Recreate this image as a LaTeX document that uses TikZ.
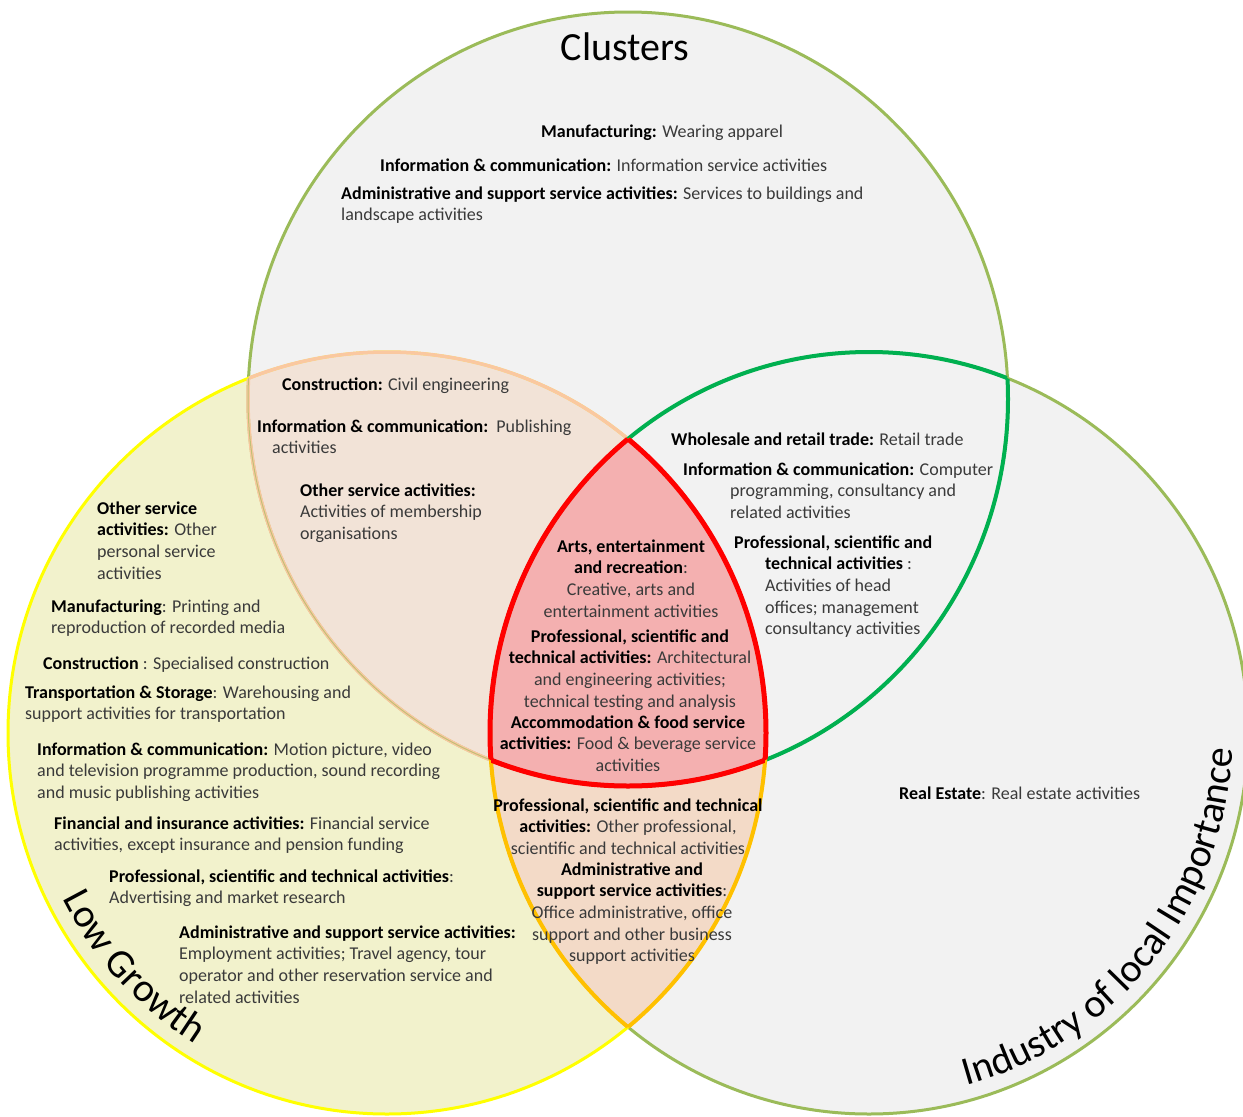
\documentclass[tikz,border=0pt]{standalone}
\usepackage{fontspec}
\setmainfont{Carlito}
\usetikzlibrary{decorations.text}
\definecolor{bggray}{HTML}{F2F2F2}
\definecolor{lgyellow}{HTML}{F2F2CC}
\definecolor{peachA}{HTML}{F2E3D7}
\definecolor{peachB}{HTML}{F3DAC7}
\definecolor{pinkR}{HTML}{F4B0B0}
\definecolor{oliveL}{HTML}{9BBB59}
\definecolor{yellowL}{HTML}{FFFF00}
\definecolor{greenL}{HTML}{00B050}
\definecolor{redL}{HTML}{FF0000}
\definecolor{orangeL}{HTML}{FFC000}
\definecolor{peachL}{HTML}{FAC8A0}
\definecolor{txtgray}{HTML}{3A3A3A}
\newcommand{\hd}[1]{\textbf{\color{black}#1}}
\newcommand{\Cshape}{(628,399) ellipse [x radius=380, y radius=387]}
\newcommand{\Lshape}{(387,733) ellipse [x radius=379, y radius=381]}
\newcommand{\Ishape}{(869,733) ellipse [x radius=379, y radius=381]}
\tikzset{
  lbl/.style={font=\fontsize{18}{21.7}\selectfont, text=txtgray, inner sep=0pt, align=left, anchor=base west},
  lblc/.style={lbl, align=center, anchor=base},
  titlefont/.style={font=\fontsize{40}{48}\selectfont, inner sep=0pt, text=black},
  outerline/.style={line width=3pt},
  lensline/.style={line width=3.5pt},
  strongline/.style={line width=4pt},
  redline/.style={line width=5pt, draw=redL, line join=round},
}
\begin{document}
\begin{tikzpicture}[x=1pt, y=-1pt]
\useasboundingbox (0,0) rectangle (1243,1117);
\fill[white] (0,0) rectangle (1243,1117);
% fills
\fill[bggray] \Cshape;
\fill[bggray] \Ishape;
\fill[lgyellow] \Lshape;
\begin{scope}
  \clip \Cshape;
  \fill[peachA] \Lshape;
\end{scope}
\begin{scope}
  \clip \Ishape;
  \fill[peachB] \Lshape;
\end{scope}
\begin{scope}
  \clip \Cshape;
  \clip \Ishape;
  \fill[pinkR] \Lshape;
\end{scope}
% outer outlines
\draw[outerline, draw=oliveL] \Cshape;
\draw[outerline, draw=oliveL] \Ishape;
\draw[outerline, draw=yellowL] \Lshape;
% lens Clusters & Low growth
\begin{scope}
  \clip \Cshape;
  \draw[lensline, draw=peachL] \Lshape;
\end{scope}
\begin{scope}
  \clip \Lshape;
  \draw[lensline, draw=peachL] \Cshape;
  \draw[line width=1pt, draw=oliveL, opacity=0.6] \Cshape;
\end{scope}
% lens Clusters & Industry
\begin{scope}
  \clip \Cshape;
  \draw[strongline, draw=greenL] \Ishape;
\end{scope}
\begin{scope}
  \clip \Ishape;
  \draw[strongline, draw=greenL] \Cshape;
\end{scope}
% lens Low growth & Industry
\begin{scope}
  \clip \Lshape;
  \draw[strongline, draw=orangeL] \Ishape;
\end{scope}
\begin{scope}
  \clip \Ishape;
  \draw[strongline, draw=orangeL] \Lshape;
\end{scope}
% triple
\begin{scope}
  \clip \Cshape;
  \clip \Ishape;
  \draw[redline] \Lshape;
\end{scope}
\begin{scope}
  \clip \Lshape;
  \clip \Ishape;
  \draw[redline] \Cshape;
\end{scope}
\begin{scope}
  \clip \Cshape;
  \clip \Lshape;
  \draw[redline] \Ishape;
\end{scope}

% titles
\node[titlefont, anchor=base] (tclusters) at (625,60) {Clusters};
\path[decorate, decoration={text along path, text={|\fontsize{40}{48}\selectfont|Low Growth}, text align=center}]
  ([shift={(387,733)}]153:364 and 366) arc[start angle=153, end angle=122, x radius=364, y radius=366];
\path[decorate, decoration={text along path, text={|\fontsize{40}{48}\selectfont|Industry of local Importance}, text align=center}]
  ([shift={(869,733)}]76:364 and 366) arc[start angle=76, end angle=1, x radius=364, y radius=366];

% Clusters only
\node[lbl] (c1) at (541,137) {\hd{Manufacturing:} Wearing apparel};
\node[lbl] (c2) at (380,171) {\hd{Information \& communication:} Information service activities};
\node[lbl] (c3) at (341,220.7) {\hd{Administrative and support service activities:} Services to buildings and\\landscape activities};

% Clusters & Low growth
\node[lbl] (cl1) at (282,390) {\hd{Construction:} Civil engineering};
\node[lbl] (cl2) at (257,453.7) {\hd{Information \& communication:}\ \ Publishing\\\hspace*{15pt}activities};
\node[lbl] (cl3) at (300,539.4) {\hd{Other service activities:}\\Activities of membership\\organisations};

% Low growth only
\node[lbl] (l1) at (97,579.1) {\hd{Other service}\\\hd{activities:} Other\\personal service\\activities};
\node[lbl] (l2) at (51,633.7) {\hd{Manufacturing}: Printing and\\reproduction of recorded media};
\node[lbl] (l3) at (43,669) {\hd{Construction} : Specialised construction};
\node[lbl] (l4) at (25,719.7) {\hd{Transportation \& Storage}: Warehousing and\\support activities for transportation};
\node[lbl] (l5) at (37,798.4) {\hd{Information \& communication:} Motion picture, video\\and television programme production, sound recording\\and music publishing activities};
\node[lbl] (l6) at (54,850.7) {\hd{Financial and insurance activities:} Financial service\\activities, except insurance and pension funding};
\node[lbl] (l7) at (109,903.7) {\hd{Professional, scientific and technical activities}:\\Advertising and market research};
\node[lbl] (l8) at (179,1003.1) {\hd{Administrative and support service activities:}\\Employment activities; Travel agency, tour\\operator and other reservation service and\\related activities};

% Clusters & Industry
\node[lbl] (ci1) at (671,445) {\hd{Wholesale and retail trade:} Retail trade};
\node[lbl] (ci2) at (730,518.4) {\hspace*{-47pt}\hd{Information \& communication:} Computer\\programming, consultancy and\\related activities};
\node[lbl] (ci3) at (765,634.8) {\hspace*{-31pt}\hd{Professional, scientific and}\\\hd{technical activities} :\\Activities of head\\offices; management\\consultancy activities};

% triple
\node[lblc] (t1) at (631,617.1) {\hd{Arts, entertainment}\\\hd{and recreation}:\\Creative, arts and\\entertainment activities};
\node[lblc] (t2) at (630,707.1) {\hd{Professional, scientific and}\\\hd{technical activities:} Architectural\\and engineering activities;\\technical testing and analysis};
\node[lblc] (t3) at (628,771.4) {\hd{Accommodation \& food service}\\\hd{activities:} Food \& beverage service\\activities};

% Low growth & Industry
\node[lblc] (li1) at (628,854.4) {\hd{Professional, scientific and technical}\\\hd{activities:} Other professional,\\scientific and technical activities};
\node[lblc] (li2) at (632,961.8) {\hd{Administrative and}\\\hd{support service activities}:\\Office administrative, office\\support and other business\\support activities};

% Industry only
\node[lbl] (i1) at (899,799) {\hd{Real Estate}: Real estate activities};
\end{tikzpicture}
\end{document}
